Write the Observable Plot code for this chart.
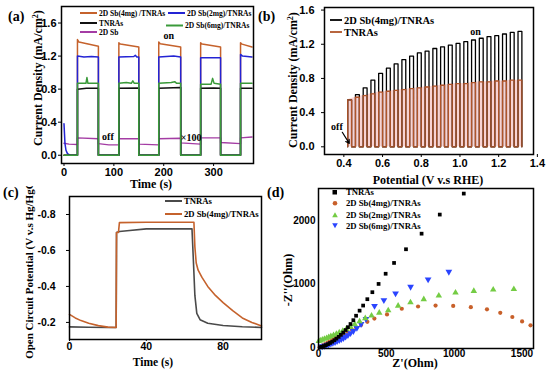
<!DOCTYPE html>
<html><head><meta charset="utf-8">
<script src="https://cdn.jsdelivr.net/npm/d3@7"></script>
<script src="https://cdn.jsdelivr.net/npm/@observablehq/plot@0.6"></script>
<style>
body{margin:0;background:#fff}
#root{position:relative;width:550px;height:373px;overflow:hidden;background:#fff}
.panel{position:absolute}
#overlay{position:absolute;left:0;top:0;pointer-events:none}
</style></head><body><div id="root"></div>
<script>
// ---------- Panel (a): chopped current vs time, [t (s), j (mA/cm2)] ----------
const aSb4 = [[0,0],[27,0],[27,1.40],[30,1.37],[69,1.32],[69,0],[110,0],[110,1.36],[113,1.345],[150,1.31],[150,0],[190,0],[190,1.37],[193,1.35],[234,1.31],[234,0],[274,0],[274,1.36],[277,1.345],[314,1.31],[314,0],[354,0],[354,1.36],[357,1.345],[377,1.31]];
const aSb2 = [[0,0.38],[2,0.14],[4,0.06],[7,0.02],[12,0],[27,0],[27,1.20],[40,1.19],[55,1.195],[69,1.19],[69,0],[110,0],[110,1.19],[140,1.195],[143,1.21],[146,1.19],[150,1.19],[150,0],[190,0],[190,1.19],[220,1.2],[234,1.19],[234,0],[274,0],[274,1.18],[314,1.18],[314,0],[354,0],[354,1.22],[358,1.2],[377,1.19]];
const aTN = [[0,0],[27,0],[27,0.80],[45,0.81],[69,0.81],[69,0],[110,0],[110,0.81],[150,0.815],[150,0],[190,0],[190,0.81],[234,0.82],[234,0],[274,0],[274,0.81],[300,0.815],[314,0.81],[314,0],[354,0],[354,0.81],[377,0.81]];
const aSb6 = [[0,0],[27,0],[27,0.87],[44,0.87],[46,0.94],[48,0.87],[69,0.87],[69,0],[110,0],[110,0.87],[125,0.88],[135,0.87],[138,0.9],[141,0.87],[150,0.87],[150,0],[190,0],[190,0.87],[215,0.88],[222,0.89],[226,0.87],[234,0.87],[234,0],[274,0],[274,0.86],[295,0.86],[298,0.93],[301,0.87],[314,0.86],[314,0],[354,0],[354,0.87],[377,0.87]];
const aSb = [[0,0.145],[10,0.135],[27,0.13],[27,0.21],[69,0.2],[69,0.14],[90,0.125],[110,0.125],[110,0.2],[150,0.2],[150,0.135],[190,0.125],[190,0.2],[234,0.205],[234,0.15],[274,0.135],[274,0.21],[314,0.21],[314,0.155],[354,0.14],[354,0.21],[377,0.22]];
const aXTicks = [0,100,200,300];
const aYTicks = [0,0.4,0.8,1.2,1.6];
const aNotes = [{x:210,y:1.44,text:"on"},{x:88,y:0.22,text:"off"},{x:255,y:0.21,text:"×100"}];

// ---------- Panel (b): chopped LSV ----------
const bLeft = [0.42,0.46,0.50,0.54,0.58,0.62,0.66,0.70,0.74,0.78,0.82,0.86,0.90,0.94,0.98,1.02,1.06,1.10,1.14,1.18,1.22,1.26,1.30];
const bOnWidth = 0.02;
const bPeakSb4 = [0.55,0.61,0.69,0.78,0.86,0.92,0.97,1.02,1.06,1.10,1.12,1.15,1.17,1.19,1.21,1.23,1.25,1.27,1.29,1.30,1.32,1.34,1.35];
const bPeakTN = [0.55,0.58,0.60,0.62,0.64,0.65,0.66,0.67,0.68,0.69,0.70,0.71,0.72,0.73,0.74,0.74,0.75,0.76,0.76,0.77,0.77,0.78,0.78];
const bXTicks = [0.4,0.6,0.8,1.0,1.2,1.4];
const bYTicks = [0,0.4,0.8,1.2,1.6];
const bNotes = [{x:1.08,y:1.34,text:"on"},{x:0.364,y:0.235,text:"off"}];
const bOffArrow = [{x1:0.392,y1:0.17,x2:0.428,y2:0.04}];

// ---------- Panel (c): open circuit potential ----------
const cTN_t = [0,10,20,24.3,24.5,26,30,40,50,60,63.8,64.5,65.3,66.3,68,72,80,90,100];
const cTN_v = [-0.175,-0.173,-0.172,-0.172,-0.70,-0.705,-0.71,-0.72,-0.72,-0.72,-0.72,-0.55,-0.35,-0.25,-0.215,-0.195,-0.183,-0.176,-0.172];
const cSb4_t = [0,3,6,10,15,20,24.3,24.5,25.5,26,40,64.8,65.3,66,67,69,72,76,80,85,90,95,100];
const cSb4_v = [-0.245,-0.225,-0.21,-0.195,-0.182,-0.174,-0.172,-0.70,-0.70,-0.755,-0.757,-0.757,-0.62,-0.53,-0.49,-0.45,-0.40,-0.35,-0.31,-0.265,-0.225,-0.20,-0.18];
const cXTicks = [0,40,80];
const cYTicks = [-0.8,-0.6,-0.4,-0.2];

// ---------- Panel (d): Nyquist, Z' and -Z'' in Ohm ----------
const dTN_x = [10,23,39,54,70,85,101,117,132,149,165,182,200,217,236,257,277,303,329,360,397,443,495,557,645,760,894,1071];
const dTN_y = [3,12,24,38,54,72,92,115,140,168,200,235,275,320,370,430,500,580,660,760,870,1000,1160,1330,1545,1790,2090,2420];
const dSb4_x = [8,18,34,49,65,80,101,122,142,163,189,215,246,277,314,360,412,505,614,734,863,993,1123,1242,1340,1429,1501,1563];
const dSb4_y = [5,20,38,55,75,95,118,140,165,190,215,245,280,315,355,405,455,520,610,645,660,655,635,600,545,480,410,350];
const dSb2_x = [2,13,28,44,60,75,91,111,132,153,179,205,236,267,303,345,391,448,514,587,678,776,887,1010,1145,1288,1440];
const dSb2_y = [100,110,122,135,148,162,178,195,215,235,260,290,325,365,410,460,500,546,583,656,710,758,815,862,888,909,917];
const dSb6_x = [28,44,60,75,91,106,122,137,153,168,184,200,217,236,257,283,314,350,413,482,568,679,808,961];
const dSb6_y = [20,28,38,48,60,72,86,100,116,132,150,170,195,225,260,310,370,450,655,745,850,955,1071,1191];
const dXTicks = [0,500,1000,1500];
const dYTicks = [0,1000,2000];

// ---------- styling ----------
const SERIF = "'Liberation Serif','Times New Roman',serif";
const SANS = "'Liberation Sans',Arial,sans-serif";
const C = {sb4:"#c5622c", sb2:"#2424d4", tn:"#111111", sb6:"#3a9a3a", sb:"#a43ca4",
           dSb4:"#c8602a", dSb2:"#74cc44", dSb6:"#2a44ff", cTN:"#4a4a4a"};
const baseStyle = {background:"transparent", fontFamily:SANS, fontWeight:"bold", fontSize:"11px", color:"black", overflow:"visible"};
const root = document.getElementById("root");
function place(svg, left, top){const d=document.createElement("div");d.className="panel";d.style.left=left+"px";d.style.top=top+"px";d.appendChild(svg);root.appendChild(d);}
const px = d => d[0], py = d => d[1];
const zip = (xs, ys) => xs.map((x,i)=>[x, ys[i]]);
const f1 = d => d.toFixed(1);
const f0 = d => String(d);
// downward triangle symbol (mirror of d3.symbolTriangle)
const triangleDown = {draw(ctx, size){const s3=Math.sqrt(3);const y=-Math.sqrt(size/(s3*3));ctx.moveTo(0,-y*2);ctx.lineTo(-s3*y,y);ctx.lineTo(s3*y,y);ctx.closePath();}};

// (a)
place(Plot.plot({
  width:275, height:190, marginLeft:61, marginRight:22, marginTop:6, marginBottom:27,
  style:baseStyle,
  x:{domain:[-5,380]}, y:{domain:[-0.1,1.8]},
  marks:[
    Plot.axisX({ticks:aXTicks, tickSize:3, tickPadding:2, tickFormat:f0, label:null}),
    Plot.axisY({ticks:aYTicks, tickSize:3, tickPadding:2, tickFormat:f1, label:null}),
    Plot.line(aSb, {x:px, y:py, stroke:C.sb, strokeWidth:1.4}),
    Plot.line(aSb4, {x:px, y:py, stroke:C.sb4, strokeWidth:1.5}),
    Plot.line(aSb2, {x:px, y:py, stroke:C.sb2, strokeWidth:1.5}),
    Plot.line(aTN, {x:px, y:py, stroke:C.tn, strokeWidth:1.5}),
    Plot.line(aSb6, {x:px, y:py, stroke:C.sb6, strokeWidth:1.5}),
    Plot.text(aNotes, {x:"x", y:"y", text:"text", fontFamily:SERIF, fontWeight:"bold", fontSize:10, fill:"black"}),
    Plot.frame({stroke:"black", strokeWidth:1.5})
  ]
}), 0, 0);

// (b)
function pulses(peaks){const pts=[];bLeft.forEach((L,i)=>{pts.push([L,0],[L,peaks[i]],[L+bOnWidth,peaks[i]],[L+bOnWidth,0]);});return pts;}
const bEnvelope = bLeft.map((L,i)=>[L, bPeakTN[i]]).concat([[bLeft[bLeft.length-1]+bOnWidth, bPeakTN[bPeakTN.length-1]]]);
place(Plot.plot({
  width:275, height:190, marginLeft:49, marginRight:17, marginTop:7, marginBottom:36,
  style:baseStyle,
  x:{domain:[0.30,1.38]}, y:{domain:[-0.09,1.63]},
  marks:[
    Plot.axisX({ticks:bXTicks, tickSize:3, tickPadding:2, tickFormat:f1, label:null}),
    Plot.axisY({ticks:bYTicks, tickSize:3, tickPadding:7, tickFormat:f1, label:null}),
    Plot.areaY(bEnvelope, {x:px, y:py, fill:"#f2a8a8", fillOpacity:0.5}),
    Plot.line(pulses(bPeakSb4), {x:px, y:py, stroke:"black", strokeWidth:1.3}),
    Plot.line(pulses(bPeakTN), {x:px, y:py, stroke:"#b0552a", strokeWidth:1.3}),
    Plot.text(bNotes, {x:"x", y:"y", text:"text", fontFamily:SERIF, fontWeight:"bold", fontSize:10, fill:"black"}),
    Plot.arrow(bOffArrow, {x1:"x1", y1:"y1", x2:"x2", y2:"y2", stroke:"black", strokeWidth:1.2, headLength:5}),
    Plot.frame({stroke:"black", strokeWidth:1.5})
  ]
}), 275, 0);

// (c)
place(Plot.plot({
  width:275, height:188, marginLeft:69, marginRight:14, marginTop:11, marginBottom:34,
  style:{...baseStyle, fontSize:"10.5px"},
  x:{domain:[0,100]}, y:{domain:[-0.105,-0.9]},
  marks:[
    Plot.axisX({ticks:cXTicks, tickSize:2, tickPadding:1, tickFormat:f0, label:null}),
    Plot.axisY({ticks:cYTicks, tickSize:3, tickPadding:11, tickFormat:f1, label:null}),
    Plot.line(zip(cTN_t, cTN_v), {x:px, y:py, stroke:C.cTN, strokeWidth:1.6}),
    Plot.line(zip(cSb4_t, cSb4_v), {x:px, y:py, stroke:C.sb4, strokeWidth:1.6}),
    Plot.frame({stroke:"black", strokeWidth:1.5})
  ]
}), 0, 185);

// (d)
place(Plot.plot({
  width:275, height:188, marginLeft:43, marginRight:17, marginTop:3, marginBottom:25,
  style:{...baseStyle, fontSize:"10px"},
  x:{domain:[0,1585]}, y:{domain:[-15,2500]},
  marks:[
    Plot.axisX({ticks:dXTicks, tickSize:0, tickPadding:1, tickFormat:f0, label:null}),
    Plot.axisY({ticks:dYTicks, tickSize:0, tickPadding:3, tickFormat:f0, label:null}),
    Plot.dot(zip(dSb4_x, dSb4_y), {x:px, y:py, symbol:"circle", r:2.1, fill:C.dSb4}),
    Plot.dot(zip(dSb6_x, dSb6_y), {x:px, y:py, symbol:triangleDown, r:2.5, fill:C.dSb6}),
    Plot.dot(zip(dSb2_x, dSb2_y), {x:px, y:py, symbol:"triangle", r:2.4, fill:C.dSb2}),
    Plot.dot(zip(dTN_x, dTN_y), {x:px, y:py, symbol:"square", r:2.1, fill:"black"}),
    Plot.frame({stroke:"black", strokeWidth:1.5})
  ]
}), 275, 185);

// ---------- overlay: panel letters, axis titles, legends ----------
function legLine(x,y,color,label,fs,len=17,w=2){return `<line x1="${x}" y1="${y}" x2="${x+len}" y2="${y}" stroke="${color}" stroke-width="${w}"/><text x="${x+len+2}" y="${y+fs*0.35}" font-size="${fs}">${label}</text>`;}
const sup2 = `<tspan baseline-shift="super" font-size="8">2</tspan>`;
const ov = `
<svg id="overlay" width="550" height="373" xmlns="http://www.w3.org/2000/svg" font-family="${SERIF}" font-weight="bold" fill="black">
 <defs><clipPath id="clipc" clipPathUnits="userSpaceOnUse"><rect x="0" y="186" width="275" height="187"/></clipPath></defs>
 <g font-size="14">
  <text x="8" y="21">(a)</text><text x="258" y="21">(b)</text>
  <text x="3" y="197">(c)</text><text x="267" y="197">(d)</text>
 </g>
 <g font-size="12" text-anchor="middle">
  <text transform="translate(42,78) rotate(-90)">Current Density (mA/cm${sup2})</text>
  <text x="151" y="188">Time (s)</text>
  <text transform="translate(297,80) rotate(-90)">Current Density (mA/cm${sup2})</text>
  <text x="428" y="184">Potential (V v.s RHE)</text>
  <g clip-path="url(#clipc)"><text transform="translate(33,268) rotate(-90)" font-size="11">Open Circuit Potential (V v.s Hg/HgO)</text></g>
  <text x="153" y="366" font-size="11.5">Time (s)</text>
  <text transform="translate(292,280) rotate(-90)">-Z''(Ohm)</text>
  <text x="415" y="367">Z'(Ohm)</text>
 </g>
 ${legLine(80,13,C.sb4,"2D Sb(4mg) /TNRAs",7.5)}
 ${legLine(168,13,C.sb2,"2D Sb(2mg)/TNRAs",7.5)}
 ${legLine(80,23,C.tn,"TNRAs",7.5)}
 ${legLine(166,25.5,C.sb6,"2D Sb(6mg)/TNRAs",7.5)}
 ${legLine(80,32,C.sb,"2D Sb",7.5)}
 ${legLine(330,20,"black","2D Sb(4mg)/TNRAs",10.5,12,1.8)}
 ${legLine(330,32,"#b0552a","TNRAs",10.5,12,1.8)}
 ${legLine(165,201,C.cTN,"TNRAs",8.7,17,2)}
 ${legLine(165,214,C.sb4,"2D Sb(4mg)/TNRAs",8.7,17,2)}
 <g font-size="8.7">
  <rect x="332.5" y="190" width="4.5" height="4.5" fill="black"/><text x="346" y="195.3">TNRAs</text>
  <circle cx="335" cy="203.3" r="2.3" fill="${C.dSb4}"/><text x="346" y="206.3">2D Sb(4mg)/TNRAs</text>
  <path d="M335,212.3 L337.8,217.3 L332.2,217.3 Z" fill="${C.dSb2}"/><text x="346" y="218">2D Sb(2mg)/TNRAs</text>
  <path d="M335,228.3 L337.8,223.3 L332.2,223.3 Z" fill="${C.dSb6}"/><text x="346" y="228.7">2D Sb(6mg)/TNRAs</text>
 </g>
</svg>`;
root.insertAdjacentHTML("beforeend", ov);
</script></body></html>
